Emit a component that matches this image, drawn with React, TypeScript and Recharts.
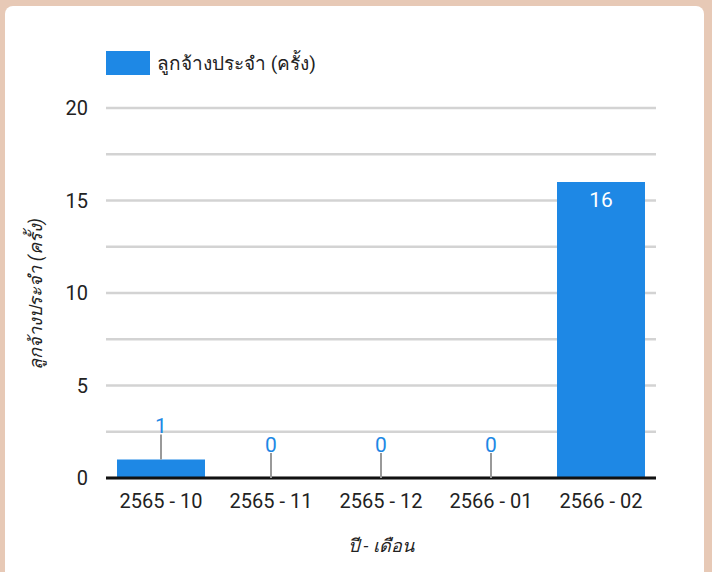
import React from 'react';
import { ComposedChart, Bar, Line, XAxis, YAxis, CartesianGrid, LabelList, Legend } from 'recharts';

const categories = ['2565 - 10', '2565 - 11', '2565 - 12', '2566 - 01', '2566 - 02'];
const values = [1, 0, 0, 0, 16];
const yTicks = [0, 2.5, 5, 7.5, 10, 12.5, 15, 17.5, 20];
const yLabelTicks = [0, 5, 10, 15, 20];
const seriesName = 'ลูกจ้างประจำ (ครั้ง)';
const yTitle = 'ลูกจ้างประจำ (ครั้ง)';
const xTitle = 'ปี - เดือน';

const data = categories.map((c, i) => ({ c, v: values[i] }));

const BLUE = '#1e88e5';
const FONT = 'Roboto, "Noto Sans", sans-serif';

const XTick = (props: any) => {
  const { x, y, payload } = props;
  return (
    <text x={x} y={y + 22} textAnchor="middle" fontSize={20} fill="#222" fontFamily={FONT}>
      {payload.value}
    </text>
  );
};

const YTick = (props: any) => {
  const { y, payload } = props;
  if (!yLabelTicks.includes(payload.value)) return <g />;
  return (
    <text x={88} y={y} dy="0.36em" textAnchor="end" fontSize={20} fill="#222" fontFamily={FONT}>
      {payload.value}
    </text>
  );
};

const ValueLabel = (props: any) => {
  const { x, y, value } = props;
  const cx = x;
  if (value >= 5) {
    return (
      <text x={cx} y={y + 17} dy="0.36em" textAnchor="middle" fontSize={21} fill="#fff" fontFamily={FONT}>
        {value}
      </text>
    );
  }
  return (
    <g>
      <line x1={cx} x2={cx} y1={y} y2={y - 25} stroke="#999" strokeWidth={2} />
      <text x={cx} y={y - 34} dy="0.36em" textAnchor="middle" fontSize={21} fill={BLUE} fontFamily={FONT}>
        {value}
      </text>
    </g>
  );
};

const LegendContent = () => (
  <div style={{ display: 'flex', alignItems: 'center', fontFamily: FONT, height: 24 }}>
    <div style={{ width: 44, height: 24, background: BLUE }} />
    <span style={{ marginLeft: 7, fontSize: 19, color: '#222' }}>{seriesName}</span>
  </div>
);

export default function App() {
  return (
    <div style={{ position: 'absolute', left: 0, top: 0, width: 712, height: 572, background: '#e7c9b6', overflow: 'hidden' }}>
      <div style={{ position: 'absolute', left: 5, top: 6, width: 699, height: 600, background: '#fff', borderRadius: 8 }} />
      <div style={{ position: 'absolute', left: 0, top: 0 }}>
        <ComposedChart
          width={712}
          height={572}
          data={data}
          margin={{ top: 84, right: 56, bottom: 64, left: 0 }}
          barCategoryGap="10%"
        >
          <CartesianGrid vertical={false} stroke="#d3d3d3" strokeWidth={2.5} />
          <XAxis
            dataKey="c"
            height={30}
            tick={<XTick />}
            tickLine={false}
            axisLine={{ stroke: '#111', strokeWidth: 3 }}
            interval={0}
          />
          <YAxis
            width={106}
            domain={[0, 20]}
            ticks={yTicks}
            tick={<YTick />}
            tickLine={false}
            axisLine={false}
            interval={0}
          />
          <Legend
            verticalAlign="top"
            align="left"
            content={<LegendContent />}
            wrapperStyle={{ position: 'absolute', top: 51, left: 106, width: 400 }}
          />
          <Bar dataKey="v" name={seriesName} fill={BLUE} isAnimationActive={false} />
          <Line dataKey="v" stroke="none" dot={false} activeDot={false} legendType="none" isAnimationActive={false}>
            <LabelList dataKey="v" content={<ValueLabel />} />
          </Line>
          <text x={35} y={294} transform="rotate(-90 35 294)" textAnchor="middle" dominantBaseline="central" fontSize={18} fontStyle="italic" fill="#222" fontFamily={FONT}>
            {yTitle}
          </text>
          <text x={381} y={545} textAnchor="middle" dominantBaseline="central" fontSize={18} fontStyle="italic" fill="#222" fontFamily={FONT}>
            {xTitle}
          </text>
        </ComposedChart>
      </div>
    </div>
  );
}
